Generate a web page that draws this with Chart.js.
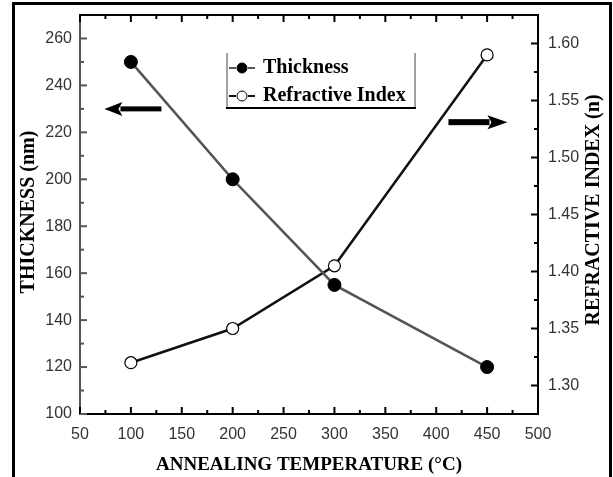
<!DOCTYPE html>
<html lang="en">
<head>
    <meta charset="UTF-8">
    <title>Thickness and Refractive Index vs Annealing Temperature</title>
    <script src="https://cdn.jsdelivr.net/npm/chart.js"></script>
    <style>
        html, body {
            margin: 0;
            padding: 0;
            background: #ffffff;
        }
        #wrap {
            width: 613px;
            height: 477px;
        }
    </style>
</head>
<body>
    <div id="wrap"><canvas id="annealChart" width="613" height="477"></canvas></div>

    <script>
        // Data
        const temps = [100, 200, 300, 450];
        const thickness = [250, 200, 155, 120];      // nm, left axis
        const refIndex = [1.32, 1.35, 1.405, 1.59];  // n, right axis

        const leftTicks = [100, 120, 140, 160, 180, 200, 220, 240, 260];
        const rightTicks = [1.30, 1.35, 1.40, 1.45, 1.50, 1.55, 1.60];

        // arrows (data coords): from -> to
        const arrowLeft = { from: [130, 230], to: [74, 230] };       // on thickness axis
        const arrowRight = { from: [412, 1.531], to: [470, 1.531] }; // on refractive axis

        const tickFont = { family: "'Liberation Sans', Arial, sans-serif", size: 16 };
        const serif = "'Liberation Serif', 'Times New Roman', serif";

        function drawArrow(ctx, x1, y1, x2, y2, shaft, headLen, headHalf) {
            const dir = Math.sign(x2 - x1);
            const hx = x2 - dir * headLen;
            ctx.save();
            ctx.fillStyle = "#000";
            ctx.fillRect(Math.min(x1, hx), y1 - shaft / 2, Math.abs(hx - x1), shaft);
            ctx.beginPath();
            ctx.moveTo(x2, y2);
            ctx.lineTo(hx - dir * 2, y2 - headHalf);
            ctx.lineTo(hx + dir * 2, y2);
            ctx.lineTo(hx - dir * 2, y2 + headHalf);
            ctx.closePath();
            ctx.fill();
            ctx.restore();
        }

        const decor = {
            id: "decor",
            afterDraw(chart) {
                const ctx = chart.ctx;
                const { left, right, top, bottom } = chart.chartArea;
                const x = chart.scales.x, y = chart.scales.y, y1 = chart.scales.y1;
                ctx.save();

                // top border
                ctx.strokeStyle = "#000";
                ctx.lineWidth = 2;
                ctx.beginPath();
                ctx.moveTo(left - 1, top);
                ctx.lineTo(right + 1, top);
                ctx.stroke();

                // inward ticks, x (bottom + top)
                ctx.lineWidth = 2;
                for (let v = 50; v <= 500; v += 25) {
                    const px = x.getPixelForValue(v);
                    const len = v % 50 === 0 ? 7 : 4;
                    ctx.beginPath();
                    ctx.moveTo(px, bottom); ctx.lineTo(px, bottom - len);
                    ctx.moveTo(px, top); ctx.lineTo(px, top + len);
                    ctx.stroke();
                }
                // left ticks
                ctx.strokeStyle = "#555";
                for (let v = 100; v <= 260; v += 10) {
                    const py = y.getPixelForValue(v);
                    const len = v % 20 === 0 ? 7 : 4;
                    ctx.beginPath();
                    ctx.moveTo(left, py); ctx.lineTo(left + len, py);
                    ctx.stroke();
                }
                // right ticks
                ctx.strokeStyle = "#000";
                for (let i = 0; i <= 13; i++) {
                    const v = 1.30 + i * 0.025;
                    const py = y1.getPixelForValue(v);
                    const len = i % 2 === 0 ? 7 : 4;
                    ctx.beginPath();
                    ctx.moveTo(right, py); ctx.lineTo(right - len, py);
                    ctx.stroke();
                }

                // arrows
                drawArrow(ctx,
                    x.getPixelForValue(arrowLeft.from[0]), y.getPixelForValue(arrowLeft.from[1]),
                    x.getPixelForValue(arrowLeft.to[0]), y.getPixelForValue(arrowLeft.to[1]),
                    5, 16, 7);
                drawArrow(ctx,
                    x.getPixelForValue(arrowRight.from[0]), y1.getPixelForValue(arrowRight.from[1]),
                    x.getPixelForValue(arrowRight.to[0]), y1.getPixelForValue(arrowRight.to[1]),
                    6, 18, 7);

                // legend box
                ctx.strokeStyle = "#444";
                ctx.lineWidth = 1;
                ctx.beginPath();
                ctx.moveTo(227, 53); ctx.lineTo(227, 108);
                ctx.moveTo(415, 53); ctx.lineTo(415, 108);
                ctx.stroke();
                ctx.strokeStyle = "#000";
                ctx.lineWidth = 2;
                ctx.beginPath();
                ctx.moveTo(226, 108); ctx.lineTo(416, 108);
                ctx.stroke();

                const ds = chart.data.datasets;
                const rows = [68, 96];
                ds.forEach((d, i) => {
                    const ly = rows[i];
                    ctx.strokeStyle = d.borderColor;
                    ctx.lineWidth = 2;
                    ctx.beginPath();
                    ctx.moveTo(229, ly); ctx.lineTo(236, ly);
                    ctx.moveTo(248, ly); ctx.lineTo(255, ly);
                    ctx.stroke();
                    ctx.beginPath();
                    ctx.arc(242, ly, 5, 0, Math.PI * 2);
                    ctx.fillStyle = d.pointBackgroundColor;
                    ctx.fill();
                    ctx.strokeStyle = d.pointBorderColor;
                    ctx.lineWidth = 1;
                    ctx.stroke();
                    ctx.fillStyle = "#000";
                    ctx.font = "bold 20px " + serif;
                    ctx.textAlign = "left";
                    ctx.textBaseline = "middle";
                    ctx.fillText(d.label, 263, ly);
                });

                // axis titles
                ctx.fillStyle = "#000";
                ctx.font = "bold 19px " + serif;
                ctx.textAlign = "center";
                ctx.textBaseline = "middle";
                ctx.fillText("ANNEALING TEMPERATURE (\u00B0C)", (left + right) / 2, 465);

                ctx.font = "bold 20px " + serif;
                ctx.save();
                ctx.translate(29, 212);
                ctx.rotate(-Math.PI / 2);
                ctx.fillText("THICKNESS (nm)", 0, 0);
                ctx.restore();

                ctx.save();
                ctx.translate(594, 210);
                ctx.rotate(-Math.PI / 2);
                ctx.fillText("REFRACTIVE INDEX (n)", 0, 0);
                ctx.restore();

                // outer frame
                ctx.strokeStyle = "#000";
                ctx.lineWidth = 3;
                ctx.strokeRect(13.5, 3.5, 597, 520);

                ctx.restore();
            }
        };

        const ctx = document.getElementById("annealChart").getContext("2d");
        new Chart(ctx, {
            type: "line",
            data: {
                labels: temps,
                datasets: [{
                    label: "Thickness",
                    data: temps.map((t, i) => ({ x: t, y: thickness[i] })),
                    yAxisID: "y",
                    borderColor: "#555555",
                    borderWidth: 2.5,
                    pointBackgroundColor: "#000000",
                    pointBorderColor: "#000000",
                    pointRadius: 6.5,
                    pointBorderWidth: 1,
                    tension: 0
                }, {
                    label: "Refractive Index",
                    data: temps.map((t, i) => ({ x: t, y: refIndex[i] })),
                    yAxisID: "y1",
                    borderColor: "#111111",
                    borderWidth: 2.5,
                    pointBackgroundColor: "#ffffff",
                    pointBorderColor: "#000000",
                    pointRadius: 6,
                    pointBorderWidth: 1.2,
                    tension: 0
                }]
            },
            options: {
                responsive: false,
                animation: false,
                layout: { padding: { top: 15, left: 0, right: 0, bottom: 0 } },
                plugins: {
                    legend: { display: false },
                    tooltip: { enabled: false }
                },
                scales: {
                    x: {
                        type: "linear",
                        min: 50, max: 500,
                        ticks: { stepSize: 50, color: "#333", font: tickFont, padding: 3, maxRotation: 0 },
                        grid: { display: false },
                        border: { color: "#000", width: 2 },
                        afterFit: s => { s.height = 63; }
                    },
                    y: {
                        position: "left",
                        min: 100, max: 270,
                        ticks: { color: "#333", font: tickFont, padding: 0 },
                        afterBuildTicks: s => { s.ticks = leftTicks.map(v => ({ value: v })); },
                        grid: { display: false },
                        border: { color: "#555", width: 2 },
                        afterFit: s => { s.width = 80; }
                    },
                    y1: {
                        position: "right",
                        min: 1.275, max: 1.625,
                        ticks: { color: "#333", font: tickFont, padding: 2, callback: v => v.toFixed(2) },
                        afterBuildTicks: s => { s.ticks = rightTicks.map(v => ({ value: v })); },
                        grid: { display: false },
                        border: { color: "#000", width: 2 },
                        afterFit: s => { s.width = 75; }
                    }
                }
            },
            plugins: [decor]
        });
    </script>
</body>
</html>
